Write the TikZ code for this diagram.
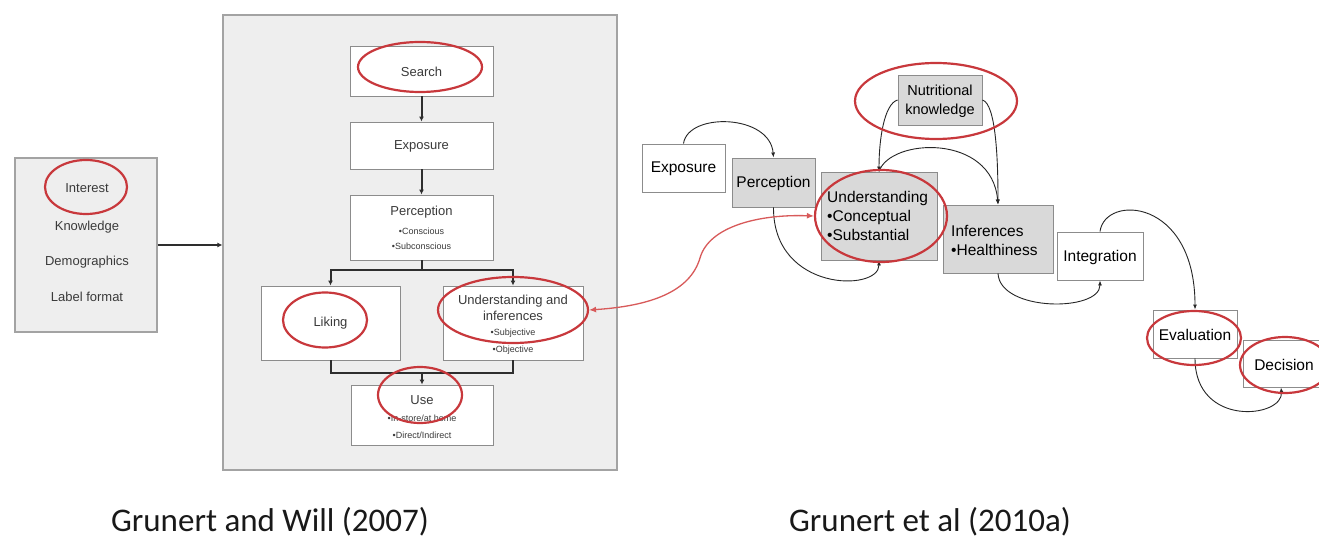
\documentclass[tikz,border=0pt]{standalone}
\usepackage{fontspec}
\setmainfont{Liberation Sans}
\newfontfamily\capfont{Carlito}
\usetikzlibrary{arrows.meta,shapes.geometric}
\definecolor{panelfill}{HTML}{EEEEEE}
\definecolor{boxline}{HTML}{8C8C8C}
\definecolor{grayfill}{HTML}{D9D9D9}
\definecolor{ringred}{HTML}{C8383C}
\definecolor{arrowred}{HTML}{D85A5A}
\definecolor{darkline}{HTML}{2E2E2E}
\definecolor{lefttext}{HTML}{3A3A3A}
\tikzset{
  panelbox/.style={draw=boxline!80, fill=panelfill, line width=1.2pt, inner sep=0pt},
  wbox/.style={draw=boxline, fill=white, line width=0.9pt, inner sep=0pt},
  gbox/.style={draw=boxline, fill=grayfill, line width=0.9pt, inner sep=0pt},
  ring/.style={draw=ringred, ellipse, line width=2.2pt, inner sep=0pt},
  ltext/.style={text=lefttext, font=\fontsize{13}{15}\selectfont, inner sep=0pt},
  lsmall/.style={text=lefttext, font=\fontsize{9}{10}\selectfont, inner sep=0pt},
  rtext/.style={text=black, font=\fontsize{15.5}{19}\selectfont, inner sep=0pt},
  lline/.style={draw=darkline, line width=2pt},
  lconn/.style={lline, -{Latex[length=5pt,width=5pt]}},
  rconn/.style={draw=black!85, line width=0.9pt, -{Latex[length=5pt,width=4pt]}},
  redconn/.style={draw=arrowred, line width=1.3pt, {Latex[length=7pt,width=6pt]}-{Latex[length=7pt,width=6pt]}},
  captext/.style={font=\capfont\fontsize{33}{36}\selectfont, text=black!90, inner sep=0pt},
}
\begin{document}
\begin{tikzpicture}[x=1pt,y=-1pt]
\useasboundingbox (0,0) rectangle (1319,540);
\fill[white] (0,0) rectangle (1319,540);

% ---------- Left model: Grunert and Will (2007) ----------
\node[panelbox, minimum width=142pt, minimum height=174pt] (factors) at (86,245) {};
\node[ltext] (interest) at (87,188) {Interest};
\node[ltext] (knowledge) at (87,227) {Knowledge};
\node[ltext] (demographics) at (87,262) {Demographics};
\node[ltext] (labelformat) at (87,297) {Label format};

\node[panelbox, minimum width=394pt, minimum height=455pt] (panel) at (420,242.5) {};

\draw[lconn] (factors.east) -- (factors.east -| panel.west);

\node[wbox, minimum width=143pt, minimum height=50pt] (search) at (421.5,71) {};
\node[ltext] (searcht) at (421.5,72) {Search};
\node[wbox, minimum width=143pt, minimum height=47pt] (exposure) at (421.5,145.5) {};
\node[ltext] (exposuret) at (421.5,146) {Exposure};
\node[wbox, minimum width=143pt, minimum height=65pt] (perception) at (421.5,227.5) {};
\node[ltext] (perceptiont) at (421.5,212) {Perception};
\node[lsmall] (conscious) at (421.5,231) {•Conscious};
\node[lsmall] (subconscious) at (421.5,246) {•Subconscious};
\node[wbox, minimum width=139pt, minimum height=74pt] (liking) at (330.5,323) {};
\node[ltext] (likingt) at (330.5,323) {Liking};
\node[wbox, minimum width=140pt, minimum height=74pt] (underst) at (513,323) {};
\node[ltext] (understt1) at (513,301) {Understanding and};
\node[ltext] (understt2) at (513,316) {inferences};
\node[lsmall] (subjective) at (513,333) {•Subjective};
\node[lsmall] (objective) at (513,350) {•Objective};
\node[wbox, minimum width=142pt, minimum height=60pt] (use) at (422,415) {};
\node[ltext] (uset) at (422,400) {Use};
\node[lsmall] (instore) at (422,418) {•In-store/at home};
\node[lsmall] (direct) at (422,435) {•Direct/Indirect};

\draw[lconn] (search.south) -- (exposure.north);
\draw[lconn] (exposure.south) -- (perception.north);
\coordinate (split) at (421.5,270);
\coordinate (join) at (422,373);
\draw[lline] (perception.south) -- (split);
\draw[lconn] (split) -| (liking.north);
\draw[lconn] (split) -| (underst.north);
\draw[lline] (liking.south) |- (join);
\draw[lline] (underst.south) |- (join);
\draw[lconn] (join) -- (use.north);

\node[ring, minimum width=82pt, minimum height=54pt] (rInterest) at (86,187) {};
\node[ring, minimum width=124pt, minimum height=50pt] (rSearch) at (420,67) {};
\node[ring, minimum width=84pt, minimum height=55pt] (rLiking) at (325,320) {};
\node[ring, minimum width=150pt, minimum height=66pt] (rUnderst) at (513,310) {};
\node[ring, minimum width=84pt, minimum height=56pt] (rUse) at (420,395) {};

% ---------- Right model: Grunert et al (2010a) ----------
\node[wbox, minimum width=83pt, minimum height=48pt] (expR) at (683.5,168) {};
\node[rtext] (expRt) at (683.5,169) {Exposure};
\node[gbox, minimum width=83pt, minimum height=49pt] (percR) at (773.5,182.5) {};
\node[rtext] (percRt) at (773.5,183) {Perception};
\node[gbox, minimum width=116pt, minimum height=88pt] (undR) at (879,216) {};
\node[rtext, anchor=west, align=left] (undRt) at (827,216) {Understanding\\•Conceptual\\•Substantial};
\node[gbox, minimum width=84pt, minimum height=50pt] (nkR) at (940,100) {};
\node[rtext, align=center, font=\fontsize{14.5}{19}\selectfont] (nkRt) at (940,101) {Nutritional\\knowledge};
\node[gbox, minimum width=110pt, minimum height=68pt] (infR) at (998,239) {};
\node[rtext, anchor=west, align=left] (infRt) at (951,240) {Inferences\\•Healthiness};
\node[wbox, minimum width=86pt, minimum height=48pt] (intR) at (1100,256) {};
\node[rtext] (intRt) at (1100,257) {Integration};
\node[wbox, minimum width=84pt, minimum height=48pt] (evalR) at (1195,334) {};
\node[rtext] (evalRt) at (1195,335) {Evaluation};
\node[wbox, minimum width=76pt, minimum height=47pt] (decR) at (1281,363.5) {};
\node[rtext] (decRt) at (1284,365) {Decision};

\draw[rconn] (expR.north) .. controls (688,112) and (770,114) .. (percR.north);
\draw[rconn] (percR.south) .. controls (773,292) and (879,292) .. (undR.south);
\draw[rconn] (nkR.west) .. controls (884,104) and (879,140) .. (undR.north);
\draw[rconn] (nkR.east) .. controls (996,104) and (998,160) .. (infR.north);
\draw[rconn] (undR.north) .. controls (890,138) and (992,133) .. (infR.north);
\draw[rconn] (infR.south) .. controls (1000,312) and (1100,312) .. (intR.south);
\draw[rconn] (intR.north) .. controls (1105,194) and (1195,198) .. (evalR.north);
\draw[rconn] (evalR.south) .. controls (1195,428) and (1284,418) .. (decR.south);

\node[ring, minimum width=132pt, minimum height=92pt] (rUndR) at (881,216) {};
\node[ring, minimum width=162pt, minimum height=76pt] (rNK) at (936,101) {};
\node[ring, minimum width=94pt, minimum height=54pt] (rEval) at (1194,338) {};
\node[ring, minimum width=90pt, minimum height=56pt] (rDec) at (1285,365) {};

% ---------- Link between the two models ----------
\draw[redconn] (rUnderst.east) .. controls (650,306) and (690,292) .. (700,258)
  .. controls (709,226) and (760,214) .. (rUndR.west);

% ---------- Captions ----------
\node[captext] (cap1) at (270,522) {Grunert and Will (2007)};
\node[captext] (cap2) at (930,522) {Grunert et al (2010a)};
\end{tikzpicture}
\end{document}
